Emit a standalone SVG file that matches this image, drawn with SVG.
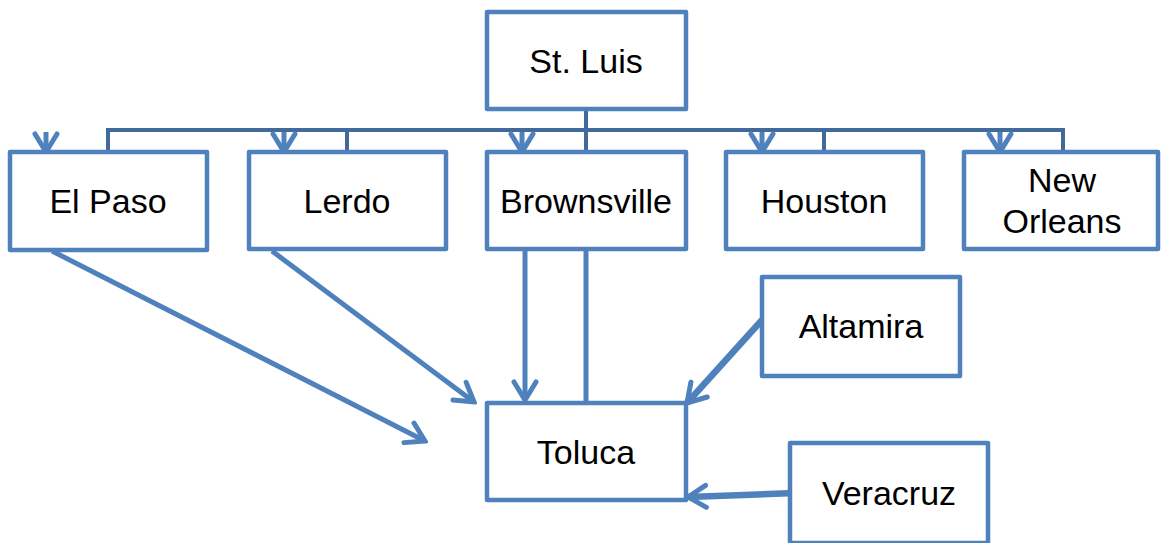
<svg xmlns="http://www.w3.org/2000/svg" width="1161" height="543" viewBox="0 0 1161 543">
<style>
.box{fill:#fff;stroke:#4f81bd;stroke-width:4.5;stroke-linejoin:round}
.lbl{font-family:"Liberation Sans",Arial,sans-serif;font-size:34px;fill:#000;text-anchor:middle;dominant-baseline:central}
.bus{fill:none;stroke:#41699a;stroke-width:4}
.arr{fill:none;stroke:#4f81bd;stroke-width:5;marker-end:url(#open)}
.arrT{fill:none;stroke:#4f81bd;stroke-width:6.5;marker-end:url(#open)}
.stub{fill:none;stroke:#4f81bd;stroke-width:5;marker-end:url(#open)}
.plain{fill:none;stroke:#4f81bd;stroke-width:5}
</style>
<defs>
<marker id="open" viewBox="0 0 24 28" markerWidth="24" markerHeight="28" refX="21" refY="14" orient="auto" markerUnits="userSpaceOnUse">
<path d="M3,3 L21,14 L3,25" fill="none" stroke="#4f81bd" stroke-width="5" stroke-linecap="round" stroke-linejoin="miter"/>
</marker>
</defs>
<g id="connectors">
<path class="bus" d="M586,109 V152 M108,152 V130 H1063 V152 M347,130 V152 M824,130 V152"/>
<line class="stub" x1="46" y1="132" x2="46" y2="152"/>
<line class="stub" x1="284" y1="132" x2="284" y2="152"/>
<line class="stub" x1="522" y1="132" x2="522" y2="152"/>
<line class="stub" x1="762" y1="132" x2="762" y2="152"/>
<line class="stub" x1="1000" y1="132" x2="1000" y2="152"/>
<line class="arr" x1="52" y1="251" x2="425" y2="441"/>
<line class="arr" x1="272" y1="251" x2="474" y2="402"/>
<line class="arr" x1="525" y1="251" x2="525" y2="400"/>
<line class="plain" x1="586" y1="251" x2="586" y2="403"/>
<line class="arrT" x1="762" y1="320" x2="687" y2="403"/>
<line class="arrT" x1="795" y1="493" x2="688" y2="497"/>
</g>
<g id="st-luis"><rect class="box" x="487" y="12" width="199" height="97"/><text class="lbl" x="586" y="61">St. Luis</text></g>
<g id="el-paso"><rect class="box" x="10" y="152" width="197" height="98"/><text class="lbl" x="108" y="201">El Paso</text></g>
<g id="lerdo"><rect class="box" x="249" y="152" width="197" height="97"/><text class="lbl" x="347" y="201">Lerdo</text></g>
<g id="brownsville"><rect class="box" x="487" y="152" width="199" height="97"/><text class="lbl" x="586" y="201">Brownsville</text></g>
<g id="houston"><rect class="box" x="726" y="152" width="197" height="97"/><text class="lbl" x="824" y="201">Houston</text></g>
<g id="new-orleans"><rect class="box" x="964" y="152" width="194" height="97"/><text class="lbl" x="1062" y="180">New</text><text class="lbl" x="1062" y="221">Orleans</text></g>
<g id="altamira"><rect class="box" x="762" y="277" width="198" height="99"/><text class="lbl" x="861" y="326">Altamira</text></g>
<g id="toluca"><rect class="box" x="487" y="403" width="199" height="97"/><text class="lbl" x="586" y="452">Toluca</text></g>
<g id="veracruz"><rect class="box" x="790" y="443" width="198" height="100"/><text class="lbl" x="889" y="493">Veracruz</text></g>
</svg>
